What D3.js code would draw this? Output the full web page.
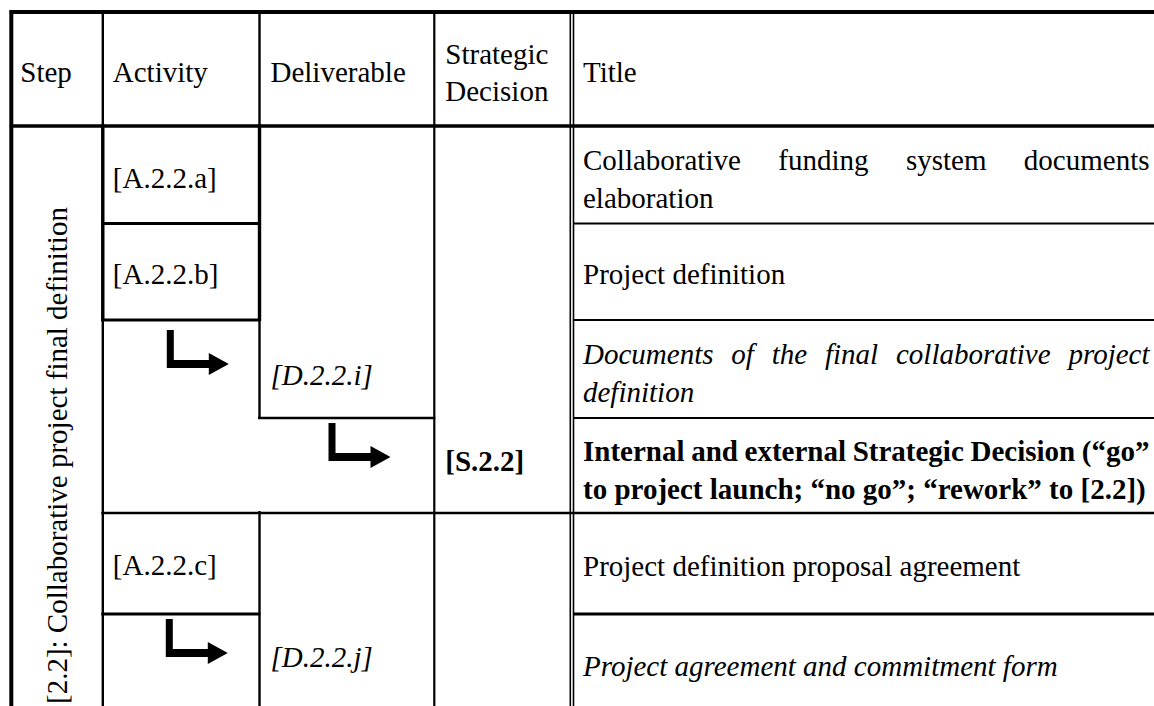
<!DOCTYPE html>
<html><head><meta charset="utf-8">
<script src="https://cdn.jsdelivr.net/npm/d3@7"></script>
<style>
html,body{margin:0;padding:0;background:#fff;overflow:hidden}
svg{display:block}
text{font-family:"Liberation Serif","Times New Roman",Times,serif;fill:#000;font-size:29px}
</style></head><body>
<svg id="chart" width="1154" height="706"></svg>
<script>
// ---------------- data ----------------
const headerLabels = [["Step"],["Activity"],["Deliverable"],["Strategic","Decision"],["Title"]];
const stepLabel = "[2.2]: Collaborative project final definition";
const activityCells = [
  {row:0, label:"[A.2.2.a]", nudge:1},
  {row:1, label:"[A.2.2.b]", nudge:0},
  {row:4, label:"[A.2.2.c]", nudge:-0.5}
];
const deliverableCells = [
  {row:2, label:"[D.2.2.i]", nudge:4},
  {row:5, label:"[D.2.2.j]", nudge:-9}
];
const decisionCells = [
  {row:3, label:"[S.2.2]", nudge:-6.5}
];
const titleLines = [
  ["Collaborative funding system documents","elaboration"],
  ["Project definition"],
  ["Documents of the final collaborative project","definition"],
  ["Internal and external Strategic Decision (\u201Cgo\u201D","to project launch; \u201Cno go\u201D; \u201Crework\u201D to [2.2])"],
  ["Project definition proposal agreement"],
  ["Project agreement and commitment form"]
];
const titleStyles = ["normal","normal","italic","bold","normal","italic"];
const arrows = [{col:1,row:2},{col:2,row:3},{col:1,row:5}];

// ---------------- layout ----------------
const svg = d3.select("#chart");
const x = d3.scaleLinear().domain([0,1,2,3,4,5]).range([11.3,102.8,259.5,434.3,572,1154]);
const y = d3.scaleLinear().domain([-1,0,1,2,3,4,5,6]).range([12,126,223.5,320,418,513,614,713]);
const pad = [9,10,11,11,11];
const lineH = 38;
const mid = r => (y(r) + y(r+1)) / 2;

// horizontal rules
const hLines = [
  {r:-1,c0:0,c1:5,w:4},
  {r:0,c0:0,c1:5,w:3.6},
  {r:1,c0:1,c1:2,w:3},{r:1,c0:4,c1:5,w:2},
  {r:2,c0:1,c1:2,w:3},{r:2,c0:4,c1:5,w:2.2},
  {r:3,c0:2,c1:3,w:2.4},{r:3,c0:4,c1:5,w:2.2},
  {r:4,c0:1,c1:5,w:2.4},
  {r:5,c0:1,c1:2,w:3},{r:5,c0:4,c1:5,w:3}
];
const vLines = [
  {c:0,r0:-1,r1:6,w:4},
  {c:1,r0:-1,r1:6,w:2.4},{c:1,r0:0,r1:2,w:3.4},
  {c:2,r0:-1,r1:3,w:2.4},{c:2,r0:0,r1:2,w:3.4},{c:2,r0:4,r1:6,w:2.4},
  {c:3,r0:-1,r1:6,w:2.2}
];
const grid = svg.append("g").attr("stroke","#000");
grid.selectAll("line.h").data(hLines).join("line").attr("class","h")
  .attr("x1", d => d.c0 === 4 ? x(4)+2 : x(d.c0) - 1.5)
  .attr("x2", d => x(d.c1) + 1)
  .attr("y1", d => y(d.r)).attr("y2", d => y(d.r))
  .attr("stroke-width", d => d.w);
grid.selectAll("line.v").data(vLines).join("line").attr("class","v")
  .attr("x1", d => x(d.c)).attr("x2", d => x(d.c))
  .attr("y1", d => y(d.r0) - 2).attr("y2", d => y(d.r1) + 1)
  .attr("stroke-width", d => d.w);
// double rule before Title column
grid.selectAll("line.dbl").data([-1.7, 1.5]).join("line").attr("class","dbl")
  .attr("x1", d => x(4)+d).attr("x2", d => x(4)+d)
  .attr("y1", y(-1)-2).attr("y2", y(6)+1)
  .attr("stroke-width", 1.6);

// header
headerLabels.forEach((lines, c) => {
  const t = svg.append("text").attr("x", x(c) + pad[c]);
  const hm = (y(-1) + y(0)) / 2 + 13;
  lines.forEach((s, i) => {
    t.append("tspan").attr("x", x(c) + pad[c])
      .attr("y", hm + (i - (lines.length-1)/2) * (lineH - 1))
      .text(s);
  });
});

// step label (rotated)
svg.append("text")
  .attr("transform", `translate(67,704) rotate(-90)`)
  .text(stepLabel);

// simple column cells
function cells(data, col, style, weight) {
  svg.selectAll(null).data(data).join("text")
    .attr("x", x(col) + pad[col])
    .attr("y", d => mid(d.row) + 12 + d.nudge)
    .attr("font-style", style).attr("font-weight", weight)
    .text(d => d.label);
}
cells(activityCells, 1, "normal", "normal");
cells(deliverableCells, 2, "italic", "normal");
cells(decisionCells, 3, "normal", "bold");

// title column, justified
const tx0 = x(4) + pad[4], tx1 = 1149.5;
titleLines.forEach((lines, r) => {
  const n = lines.length;
  lines.forEach((s, i) => {
    const by = mid(r) + (n > 1 ? 14 : 12) + (i - (n-1)/2) * lineH;
    const t = svg.append("text").attr("y", by)
      .attr("font-style", titleStyles[r] === "italic" ? "italic" : "normal")
      .attr("font-weight", titleStyles[r] === "bold" ? "bold" : "normal");
    const justify = i < n - 1;
    if (!justify) { t.attr("x", tx0).text(s); return; }
    const words = s.split(" ");
    const spans = words.map(w => t.append("tspan").text(w));
    const widths = spans.map(sp => sp.node().getComputedTextLength());
    const gap = (tx1 - tx0 - d3.sum(widths)) / (words.length - 1);
    let cx = tx0;
    spans.forEach((sp, k) => { sp.attr("x", cx); cx += widths[k] + gap; });
  });
});

// L-shaped arrows
svg.selectAll("path.arrow").data(arrows).join("path").attr("class","arrow")
  .attr("fill","#000")
  .attr("d", d => {
    const off = d.row === 2 ? [64,10] : (d.col === 2 ? [69,5] : [63,5]);
    const x0 = x(d.col) + off[0], y0 = y(d.row) + off[1];
    const p = d3.path();
    p.moveTo(x0, y0); p.lineTo(x0+7, y0); p.lineTo(x0+7, y0+30);
    p.lineTo(x0+42, y0+30); p.lineTo(x0+42, y0+23); p.lineTo(x0+62, y0+34);
    p.lineTo(x0+42, y0+45); p.lineTo(x0+42, y0+38); p.lineTo(x0, y0+38);
    p.closePath();
    return p.toString();
  });
</script>
</body></html>
